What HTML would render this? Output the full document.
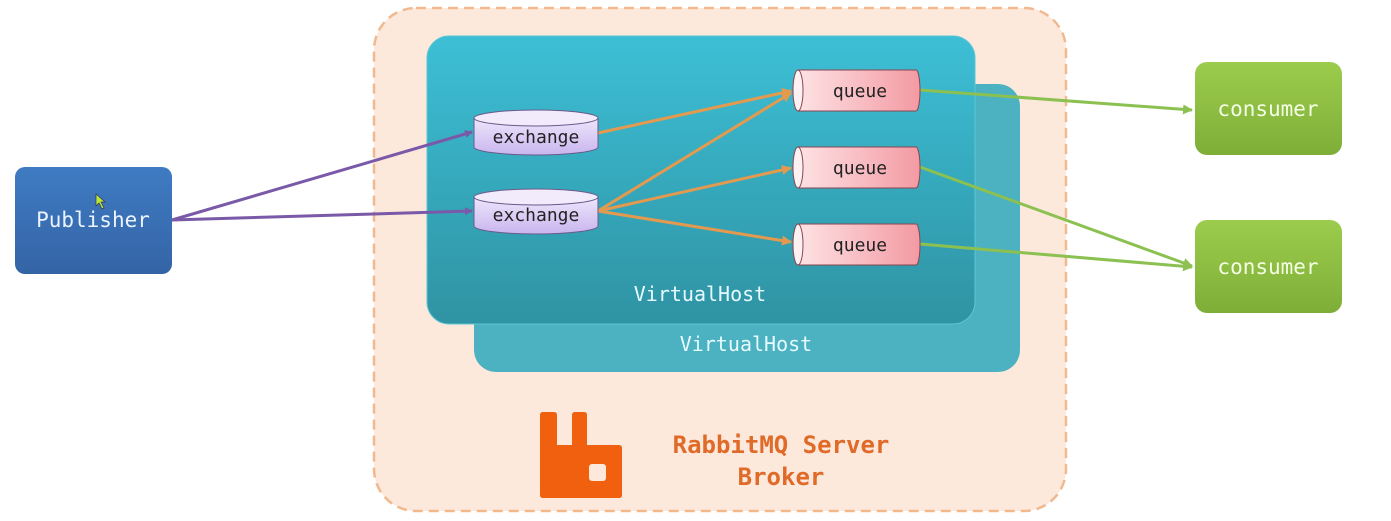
<!DOCTYPE html>
<html><head><meta charset="utf-8"><style>
html,body{margin:0;padding:0;background:#fff;}
svg{display:block}
text{font-family:"DejaVu Sans Mono","Liberation Mono",monospace;}
</style></head><body>
<svg width="1391" height="521" viewBox="0 0 1391 521" xmlns="http://www.w3.org/2000/svg">
<defs>
<linearGradient id="vh" x1="0" y1="0" x2="0" y2="1"><stop offset="0" stop-color="#3dbfd6"/><stop offset="1" stop-color="#2f93a3"/></linearGradient>
<linearGradient id="pub" x1="0" y1="0" x2="0" y2="1"><stop offset="0" stop-color="#3f7bc2"/><stop offset="1" stop-color="#3464a6"/></linearGradient>
<linearGradient id="con" x1="0" y1="0" x2="0" y2="1"><stop offset="0" stop-color="#9ccc4c"/><stop offset="1" stop-color="#7fae38"/></linearGradient>
<linearGradient id="q" x1="0" y1="0" x2="1" y2="0"><stop offset="0" stop-color="#fde2e4"/><stop offset="1" stop-color="#f39aa3"/></linearGradient>
<linearGradient id="ex" x1="0" y1="0" x2="0" y2="1"><stop offset="0" stop-color="#ede6fb"/><stop offset="1" stop-color="#c9b5ee"/></linearGradient>
<marker id="ap" markerWidth="8" markerHeight="8" refX="7" refY="4" orient="auto" markerUnits="userSpaceOnUse"><path d="M0,0 L8,4 L0,8z" fill="#7a5aa8"/></marker>
<marker id="ao" markerWidth="10" markerHeight="10" refX="9" refY="5" orient="auto" markerUnits="userSpaceOnUse"><path d="M0,0 L10,5 L0,10z" fill="#e49a4e"/></marker>
<marker id="ag" markerWidth="10" markerHeight="10" refX="9" refY="5" orient="auto" markerUnits="userSpaceOnUse"><path d="M0,0 L10,5 L0,10z" fill="#8cc152"/></marker>
</defs>
<rect x="374" y="8" width="692" height="503" rx="42" fill="#fde8dc" stroke="#f0b98f" stroke-width="2.5" stroke-dasharray="10,6"/>
<rect x="474" y="84" width="546" height="288" rx="22" fill="#4cb1c0"/>
<rect x="427" y="36" width="548" height="288" rx="22" fill="url(#vh)" stroke="#5cc6d4" stroke-width="1"/>
<text x="700" y="301" font-size="20" fill="#e6fbff" text-anchor="middle">VirtualHost</text>
<text x="746" y="351" font-size="20" fill="#e6fbff" text-anchor="middle">VirtualHost</text>
<rect x="15" y="167" width="157" height="107" rx="10" fill="url(#pub)"/>
<text x="93" y="227" font-size="21" fill="#eaf3ff" text-anchor="middle">Publisher</text>
<path d="M96,194 L96,206 L99,203 L102,209 L104,208 L101,202 L105,202z" fill="#b8e83a" stroke="#335" stroke-width="0.7"/>
<g stroke-width="3" fill="none">
<line x1="172" y1="220" x2="472" y2="132" stroke="#7a5aa8" marker-end="url(#ap)"/>
<line x1="172" y1="220" x2="472" y2="211" stroke="#7a5aa8" marker-end="url(#ap)"/>
<line x1="598" y1="133" x2="791" y2="91" stroke="#e49a4e" marker-end="url(#ao)"/>
<line x1="598" y1="211" x2="791" y2="93" stroke="#e49a4e" marker-end="url(#ao)"/>
<line x1="598" y1="211" x2="791" y2="168" stroke="#e49a4e" marker-end="url(#ao)"/>
<line x1="598" y1="211" x2="791" y2="242" stroke="#e49a4e" marker-end="url(#ao)"/>
<line x1="920" y1="90" x2="1192" y2="110" stroke="#8cc152" marker-end="url(#ag)"/>
<line x1="920" y1="167" x2="1192" y2="266" stroke="#8cc152" marker-end="url(#ag)"/>
<line x1="920" y1="244" x2="1192" y2="267" stroke="#8cc152" marker-end="url(#ag)"/>
</g>
<g stroke="#6a5a8a" stroke-width="1">
<path d="M474,118 L474,147 A62,8 0 0 0 598,147 L598,118" fill="url(#ex)"/>
<ellipse cx="536" cy="118" rx="62" ry="8" fill="#f1ebfc"/>
<path d="M474,197 L474,226 A62,8 0 0 0 598,226 L598,197" fill="url(#ex)"/>
<ellipse cx="536" cy="197" rx="62" ry="8" fill="#f1ebfc"/>
</g>
<text x="536" y="143" font-size="18" fill="#222" text-anchor="middle">exchange</text>
<text x="536" y="221" font-size="18" fill="#222" text-anchor="middle">exchange</text>
<g stroke="#8a4550" stroke-width="1">
<path d="M798,70 L916,70 A4,20.5 0 0 1 916,111 L798,111z" fill="url(#q)"/>
<ellipse cx="798" cy="90.5" rx="5" ry="20.5" fill="#fff0f1"/>
<path d="M798,147 L916,147 A4,20.5 0 0 1 916,188 L798,188z" fill="url(#q)"/>
<ellipse cx="798" cy="167.5" rx="5" ry="20.5" fill="#fff0f1"/>
<path d="M798,224 L916,224 A4,20.5 0 0 1 916,265 L798,265z" fill="url(#q)"/>
<ellipse cx="798" cy="244.5" rx="5" ry="20.5" fill="#fff0f1"/>
</g>
<text x="860" y="97" font-size="18" fill="#222" text-anchor="middle">queue</text>
<text x="860" y="174" font-size="18" fill="#222" text-anchor="middle">queue</text>
<text x="860" y="251" font-size="18" fill="#222" text-anchor="middle">queue</text>
<rect x="1195" y="62" width="147" height="93" rx="12" fill="url(#con)"/>
<text x="1268" y="116" font-size="21" fill="#f4ffe6" text-anchor="middle">consumer</text>
<rect x="1195" y="220" width="147" height="93" rx="12" fill="url(#con)"/>
<text x="1268" y="274" font-size="21" fill="#f4ffe6" text-anchor="middle">consumer</text>
<path d="M543,412 L554,412 Q557,412 557,415 L557,445 L572,445 L572,415 Q572,412 575,412 L584,412 Q587,412 587,415 L587,445 L619,445 Q622,445 622,448 L622,495 Q622,498 619,498 L543,498 Q540,498 540,495 L540,415 Q540,412 543,412z" fill="#f0600f"/>
<rect x="589" y="464" width="17" height="17" rx="3" fill="#fde8dc"/>
<text x="781" y="453" font-size="24" font-weight="bold" fill="#e06a28" text-anchor="middle">RabbitMQ Server</text>
<text x="781" y="485" font-size="24" font-weight="bold" fill="#e06a28" text-anchor="middle">Broker</text>
</svg>
</body></html>
